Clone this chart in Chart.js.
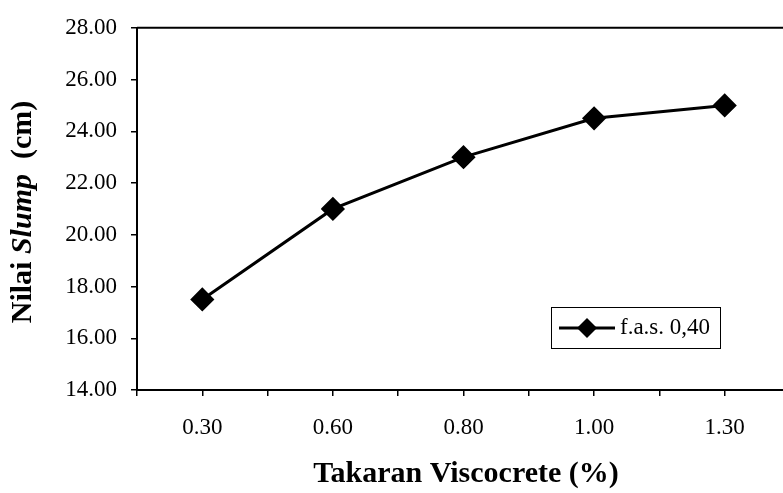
<!DOCTYPE html>
<html lang="en">

<head>
  <meta charset="UTF-8">
  <title>Nilai Slump vs Takaran Viscocrete</title>
  <script src="https://cdn.jsdelivr.net/npm/chart.js"></script>
  <style>
    body {
      margin: 0;
      background: #ffffff;
      overflow: hidden;
    }

    #slumpChart {
      position: absolute;
      left: 0;
      top: 0;
    }
  </style>
</head>

<body>

  <!-- wider than the window: the plot box runs off the right edge like the original -->
  <canvas id="slumpChart" width="808" height="493"></canvas>

  <script>
    // data
    const categories = ['0.30', '0.60', '0.80', '1.00', '1.30'];
    const slumpValues = [17.5, 21.0, 23.0, 24.5, 25.0];
    const seriesLabel = 'f.a.s. 0,40';
    const yTicks = [14, 16, 18, 20, 22, 24, 26, 28];

    const serif = "'Liberation Serif', 'Times New Roman', serif";

    // titles + box + legend drawn by hand (mixed bold/italic, legend inside plot)
    const decorations = {
      id: 'decorations',
      afterDraw(chart) {
        const ctx = chart.ctx;
        const area = chart.chartArea;
        ctx.save();

        // frame top/right
        ctx.strokeStyle = '#000';
        ctx.lineWidth = 2;
        ctx.beginPath();
        ctx.moveTo(area.left, area.top);
        ctx.lineTo(area.right, area.top);
        ctx.lineTo(area.right, area.bottom);
        ctx.stroke();

        // x title
        ctx.fillStyle = '#000';
        ctx.font = 'bold 30px ' + serif;
        ctx.textAlign = 'center';
        ctx.textBaseline = 'middle';
        ctx.fillText('Takaran Viscocrete (%)', 466, 474);

        // y title, rotated
        const parts = [
          ['Nilai ', 'bold 30px ' + serif],
          ['Slump', 'italic bold 30px ' + serif],
          ['  (cm)', 'bold 30px ' + serif]
        ];
        let total = 0;
        parts.forEach(p => { ctx.font = p[1]; total += ctx.measureText(p[0]).width; });
        ctx.save();
        ctx.translate(23, 212);
        ctx.rotate(-Math.PI / 2);
        ctx.textAlign = 'left';
        let x = -total / 2;
        parts.forEach(p => {
          ctx.font = p[1];
          ctx.fillText(p[0], x, 0);
          x += ctx.measureText(p[0]).width;
        });
        ctx.restore();

        // legend box
        ctx.lineWidth = 1;
        ctx.strokeRect(551.5, 307.5, 169, 41);
        ctx.lineWidth = 3;
        ctx.beginPath();
        ctx.moveTo(559, 328);
        ctx.lineTo(615, 328);
        ctx.stroke();
        ctx.beginPath();
        ctx.moveTo(587, 318);
        ctx.lineTo(597, 328);
        ctx.lineTo(587, 338);
        ctx.lineTo(577, 328);
        ctx.closePath();
        ctx.fill();
        ctx.font = '23px ' + serif;
        ctx.textAlign = 'left';
        ctx.textBaseline = 'middle';
        ctx.fillText(seriesLabel, 620, 328);

        ctx.restore();
      }
    };

    const ctx = document.getElementById('slumpChart').getContext('2d');
    new Chart(ctx, {
      type: 'line',
      data: {
        datasets: [{
          label: seriesLabel,
          data: slumpValues.map((v, i) => ({ x: i, y: v })),
          borderColor: '#000',
          backgroundColor: '#000',
          borderWidth: 3,
          pointStyle: 'rectRot',
          pointRadius: 10,
          pointHoverRadius: 10,
          tension: 0
        }]
      },
      options: {
        responsive: false,
        animation: false,
        layout: {
          padding: { top: 17, right: 1, left: 0, bottom: 0 }
        },
        plugins: {
          legend: { display: false },
          tooltip: { enabled: false }
        },
        scales: {
          x: {
            type: 'linear',
            min: -0.5,
            max: categories.length - 0.5,
            afterFit(scale) { scale.height = 103; },
            ticks: {
              stepSize: 0.5,
              maxTicksLimit: 20,
              autoSkip: false,
              maxRotation: 0,
              padding: 18,
              color: '#000',
              font: { family: serif, size: 23 },
              callback: v => Number.isInteger(v) ? categories[v] : ''
            },
            grid: {
              drawOnChartArea: false,
              drawTicks: true,
              tickLength: 6,
              color: '#000',
              lineWidth: 1.5
            },
            border: { display: true, color: '#000', width: 2 }
          },
          y: {
            min: yTicks[0],
            max: yTicks[yTicks.length - 1],
            afterFit(scale) { scale.width = 137; },
            afterBuildTicks(scale) { scale.ticks = yTicks.map(v => ({ value: v })); },
            ticks: {
              padding: 14,
              color: '#000',
              font: { family: serif, size: 23 },
              callback: v => v.toFixed(2)
            },
            grid: {
              drawOnChartArea: false,
              drawTicks: true,
              tickLength: 6,
              color: '#000',
              lineWidth: 1.5
            },
            border: { display: true, color: '#000', width: 2 }
          }
        }
      },
      plugins: [decorations]
    });
  </script>

</body>

</html>
